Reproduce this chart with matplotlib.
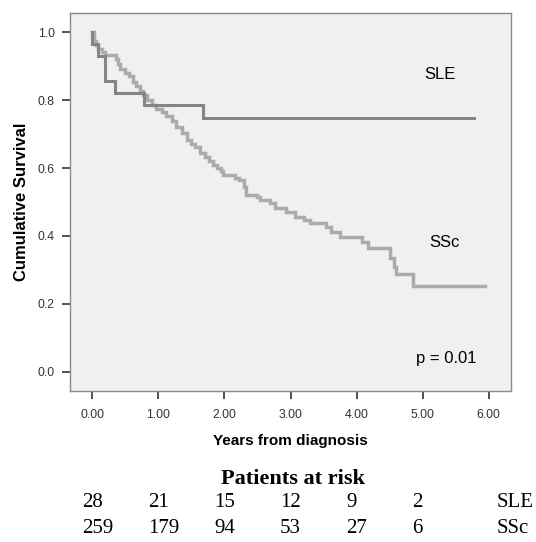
import matplotlib
matplotlib.use("Agg")
import matplotlib.pyplot as plt
import matplotlib.transforms as mtransforms

# ---- data ----
sle_times = [0.00, 0.00, 0.08, 0.19, 0.345, 0.78, 1.667, 5.78]
sle_surv  = [1.000, 0.964, 0.929, 0.857, 0.821, 0.786, 0.746, 0.746]

ssc_times = [0.00, 0.02, 0.05, 0.09, 0.14, 0.19, 0.35, 0.38, 0.41, 0.50, 0.56,
             0.62, 0.66, 0.72, 0.77, 0.83, 0.90, 0.97, 1.05, 1.12, 1.20, 1.27,
             1.35, 1.43, 1.50, 1.56, 1.63, 1.70, 1.76, 1.83, 1.89, 1.94, 1.98,
             2.16, 2.22, 2.29, 2.33, 2.49, 2.54, 2.69, 2.76, 2.93, 3.07, 3.20,
             3.30, 3.53, 3.62, 3.75, 4.08, 4.17, 4.51, 4.56, 4.60, 4.86, 5.94]
ssc_surv  = [1.000, 0.975, 0.962, 0.950, 0.940, 0.932, 0.922, 0.905, 0.892, 0.880, 0.870,
             0.852, 0.840, 0.827, 0.815, 0.800, 0.785, 0.775, 0.765, 0.752, 0.738, 0.722,
             0.703, 0.683, 0.672, 0.662, 0.645, 0.632, 0.622, 0.610, 0.600, 0.592, 0.578,
             0.572, 0.565, 0.545, 0.521, 0.514, 0.505, 0.497, 0.482, 0.472, 0.457, 0.447,
             0.437, 0.426, 0.413, 0.398, 0.383, 0.364, 0.334, 0.310, 0.287, 0.254, 0.254]

xticks = [0, 1, 2, 3, 4, 5, 6]
xtick_labels = ["0.00", "1.00", "2.00", "3.00", "4.00", "5.00", "6.00"]
yticks = [0.0, 0.2, 0.4, 0.6, 0.8, 1.0]
ytick_labels = ["0.0", "0.2", "0.4", "0.6", "0.8", "1.0"]

risk_times = [0, 1, 2, 3, 4, 5]
risk_sle = [28, 21, 15, 12, 9, 2]
risk_ssc = [259, 179, 94, 53, 27, 6]
group_names = ["SLE", "SSc"]

# ---- figure ----
fig = plt.figure(figsize=(5.36, 5.42), dpi=100)
ax = fig.add_axes([0.1306, 0.2786, 0.8228, 0.6974])
ax.set_facecolor("#f0f0f0")

ax.step(ssc_times, ssc_surv, where="post", color="#ababab", lw=2.5, solid_joinstyle="miter")
ax.step(sle_times, sle_surv, where="post", color="#858585", lw=2.2, solid_joinstyle="miter")

ax.set_xlim(-0.34, 6.34)
ax.set_ylim(-0.056, 1.056)
ax.set_xticks(xticks)
ax.set_xticklabels(xtick_labels)
ax.set_yticks(yticks)
ax.set_yticklabels(ytick_labels)

sans = "Liberation Sans"
ax.tick_params(axis="both", direction="out", length=6, width=1.1, color="#222222",
               labelsize=8.8, labelcolor="#333333", pad=5)
ax.tick_params(axis="x", pad=7)
for lab in ax.get_xticklabels() + ax.get_yticklabels():
    lab.set_fontfamily(sans)
for s in ax.spines.values():
    s.set_color("#8a8a8a")
    s.set_linewidth(1.0)

ax.set_xlabel("Years from diagnosis", fontsize=11, fontweight="bold", family=sans, labelpad=9)
ax.set_ylabel("Cumulative Survival", fontsize=12, fontweight="bold", family=sans, labelpad=6)

ax.text(5.27, 0.875, "SLE", fontsize=12, family=sans, ha="center", va="center")
ax.text(5.33, 0.382, "SSc", fontsize=12, family=sans, ha="center", va="center")
ax.text(5.36, 0.04, "p = 0.01", fontsize=12, family=sans, ha="center", va="center")

# ---- patients at risk ----
serif = "Liberation Serif"
trans = mtransforms.blended_transform_factory(ax.transData, fig.transFigure)
fig.text(0.547, 0.1162, "Patients at risk", fontsize=16, fontweight="bold",
         family=serif, ha="center", va="center")
for t, a, b in zip(risk_times, risk_sle, risk_ssc):
    ax.text(t - 0.16, 0.072, str(a), transform=trans, fontsize=15, family=serif,
            ha="left", va="center", clip_on=False)
    ax.text(t - 0.16, 0.0258, str(b), transform=trans, fontsize=15, family=serif,
            ha="left", va="center", clip_on=False)
ax.text(6.12, 0.072, group_names[0], transform=trans, fontsize=15, family=serif,
        ha="left", va="center", clip_on=False)
ax.text(6.12, 0.0258, group_names[1], transform=trans, fontsize=15, family=serif,
        ha="left", va="center", clip_on=False)

fig.savefig("out.png", dpi=100)
